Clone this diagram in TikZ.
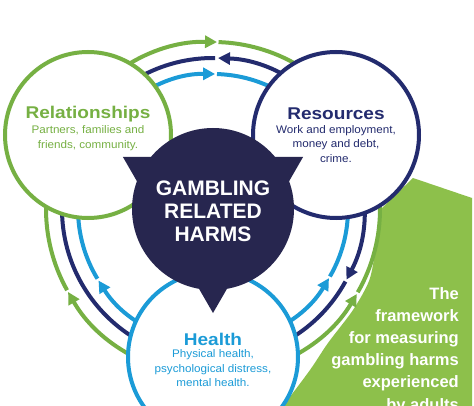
\documentclass[tikz,border=0pt]{standalone}
\usepackage{fontspec}
\setmainfont{Liberation Sans}
\newfontfamily\headfont[FakeStretch=1.12]{Liberation Sans}
\newfontfamily\subfont[FakeStretch=1.06]{Liberation Sans}
\usetikzlibrary{arrows.meta}
\definecolor{grn}{HTML}{76B043}
\definecolor{panelgrn}{HTML}{8DC04B}
\definecolor{navy}{HTML}{232B6E}
\definecolor{darkc}{HTML}{27264F}
\definecolor{blu}{HTML}{1B9BD7}
\begin{document}
\begin{tikzpicture}[x=1pt,y=-1pt,
  ring/.style={circle, line width=4pt, fill=white, inner sep=0pt},
  arcline/.style={line width=4pt},
  tipend/.style={-{Triangle[length=12pt,width=12pt]}},
  headtxt/.style={font=\headfont\bfseries\fontsize{17}{20}\selectfont, anchor=base, inner sep=0pt},
  subtxt/.style={font=\subfont\fontsize{11}{14.5}\selectfont, align=center, anchor=base, inner sep=0pt},
]
\clip (0,0) rectangle (474,406);
\fill[white] (0,0) rectangle (474,406);
\coordinate (C) at (213,209);
% side panel
\fill[panelgrn] (413,178) -- (472,198) -- (472,406) -- (283,406)
  -- plot[smooth] coordinates {(283,406) (310,370) (328,343) (353,310) (369,281) (375,253) (378,232) (382,208)} -- cycle;
% top arcs
\draw[arcline,grn,tipend] (C) ++(-149:167) arc[start angle=-149,end angle=-88.6,radius=167];
\draw[arcline,grn] (C) ++(-88.1:167) arc[start angle=-88.1,end angle=-31,radius=167];
\draw[arcline,navy,tipend] (C) ++(-31:151) arc[start angle=-31,end angle=-88.1,radius=151];
\draw[arcline,navy] (C) ++(-149:151) arc[start angle=-149,end angle=-89.2,radius=151];
\draw[arcline,blu,tipend] (C) ++(-149:135) arc[start angle=-149,end angle=-89.1,radius=135];
\draw[arcline,blu] (C) ++(-88.3:135) arc[start angle=-88.3,end angle=-31,radius=135];
% left arcs
\draw[arcline,grn,tipend] (C) ++(90:167) arc[start angle=90,end angle=150.2,radius=167];
\draw[arcline,grn] (C) ++(150.9:167) arc[start angle=150.9,end angle=211,radius=167];
\draw[arcline,navy] (C) ++(90:151) arc[start angle=90,end angle=211,radius=151];
\draw[arcline,blu,tipend] (C) ++(90:135) arc[start angle=90,end angle=148,radius=135];
\draw[arcline,blu] (C) ++(148.9:135) arc[start angle=148.9,end angle=211,radius=135];
% right arcs
\draw[arcline,grn,tipend] (C) ++(90:167) arc[start angle=90,end angle=30.6,radius=167];
\draw[arcline,grn] (C) ++(29.9:167) arc[start angle=29.9,end angle=-31,radius=167];
\draw[arcline,navy,tipend] (C) ++(-31:151) arc[start angle=-31,end angle=27.9,radius=151];
\draw[arcline,navy] (C) ++(28.7:151) arc[start angle=28.7,end angle=90,radius=151];
\draw[arcline,blu,tipend] (C) ++(90:135) arc[start angle=90,end angle=30.8,radius=135];
\draw[arcline,blu] (C) ++(30:135) arc[start angle=30,end angle=-31,radius=135];
% circles
\node[ring, draw=grn, minimum size=166pt] (rel) at (88,135) {};
\node[ring, draw=navy, minimum size=166pt] (res) at (336,135) {};
\node[ring, draw=blu, minimum size=170pt] (hea) at (213,357) {};
% centre shape
\node[circle, fill=darkc, minimum size=162pt, inner sep=0pt] (harm) at (C) {};
\foreach \t in {210,-30,90}
  \fill[darkc] (C) ++(\t:104) -- +(\t+150:62) -- +(\t+210:62) -- cycle;
% texts (multi-line nodes: base anchor = last line)
\node[headtxt, text=grn] (relh) at (88,119) {Relationships};
\node[subtxt, text=grn] (rels) at (88,148.5) {Partners, families and\\friends, community.};
\node[headtxt, text=navy] (resh) at (336,120) {Resources};
\node[subtxt, text=navy] (ress) at (336,162.5) {Work and employment,\\money and debt,\\crime.};
\node[headtxt, text=blu] (heah) at (213,345) {Health};
\node[subtxt, text=blu] (heas) at (213,386.5) {Physical health,\\psychological distress,\\mental health.};
\node[font=\bfseries\fontsize{21}{23.5}\selectfont, text=white, align=center, anchor=base, inner sep=0pt] (ctext) at (213,242) {GAMBLING\\RELATED\\HARMS};
\node[font=\bfseries\fontsize{16.5}{22.2}\selectfont, text=white, align=right, anchor=base east, inner sep=0pt] (ptext) at (459,410) {The\\framework\\for measuring\\gambling harms\\experienced\\by adults};
\end{tikzpicture}
\end{document}
